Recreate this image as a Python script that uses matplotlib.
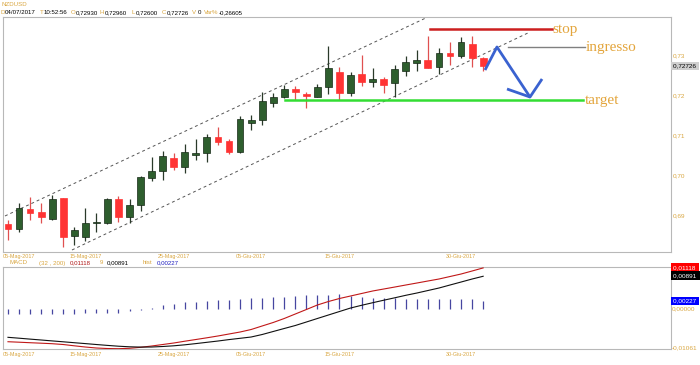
import matplotlib
matplotlib.use("Agg")
import matplotlib.pyplot as plt
import numpy as np

# ---------------- data ----------------
symbol = "NZDUSD"
opens = [0.68783, 0.68658, 0.69157, 0.69082, 0.68907, 0.69431, 0.68483, 0.68459, 0.68808, 0.68808,
         0.69406, 0.68957, 0.69257, 0.69930, 0.70105, 0.70429, 0.70204, 0.70504, 0.70553, 0.70945,
         0.70853, 0.70578, 0.71314, 0.71376, 0.71808, 0.71938, 0.72142, 0.72025, 0.71958, 0.72200,
         0.72581, 0.72042, 0.72524, 0.72332, 0.72399, 0.72292, 0.72606, 0.72791, 0.72873, 0.72706,
         0.73040, 0.72980, 0.73264, 0.72930]
highs = [0.68883, 0.69307, 0.69456, 0.69307, 0.69506, 0.69444, 0.68708, 0.69182, 0.69057, 0.69431,
         0.69481, 0.69406, 0.69980, 0.70466, 0.70603, 0.70553, 0.70778, 0.70903, 0.71027, 0.71214,
         0.70915, 0.71464, 0.71501, 0.72075, 0.72062, 0.72237, 0.72224, 0.72087, 0.72262, 0.73210,
         0.72698, 0.72581, 0.72998, 0.72666, 0.72456, 0.72748, 0.72973, 0.73122, 0.73471, 0.73165,
         0.73329, 0.73454, 0.73471, 0.72960]
lows = [0.68384, 0.68583, 0.68883, 0.68808, 0.68895, 0.68209, 0.68259, 0.68359, 0.68596, 0.68783,
        0.68833, 0.68808, 0.69107, 0.69855, 0.69880, 0.70129, 0.70055, 0.70379, 0.70341, 0.70753,
        0.70529, 0.70566, 0.71127, 0.71252, 0.71701, 0.71925, 0.71875, 0.71688, 0.71950, 0.72025,
        0.71875, 0.71963, 0.72224, 0.72192, 0.72057, 0.71958, 0.72474, 0.72599, 0.72666, 0.72524,
        0.72748, 0.72915, 0.72706, 0.72600]
closes = [0.68658, 0.69182, 0.69057, 0.68957, 0.69406, 0.68459, 0.68633, 0.68808, 0.68845, 0.69406,
          0.68957, 0.69257, 0.69955, 0.70105, 0.70479, 0.70204, 0.70591, 0.70553, 0.70965, 0.70828,
          0.70578, 0.71401, 0.71376, 0.71838, 0.71950, 0.72150, 0.72087, 0.71975, 0.72207, 0.72666,
          0.72062, 0.72499, 0.72312, 0.72392, 0.72249, 0.72641, 0.72830, 0.72873, 0.72681, 0.73040,
          0.72980, 0.73329, 0.72915, 0.72726]

macd = [-0.00890, -0.00903, -0.00917, -0.00930, -0.00944, -0.00966, -0.01001, -0.01034, -0.01061, -0.01075,
        -0.01080, -0.01069, -0.01042, -0.01007, -0.00966, -0.00925, -0.00876, -0.00830, -0.00783, -0.00734,
        -0.00680, -0.00626, -0.00558, -0.00462, -0.00367, -0.00258, -0.00136, -0.00014, 0.00109, 0.00204,
        0.00286, 0.00354, 0.00422, 0.00490, 0.00544, 0.00598, 0.00653, 0.00707, 0.00762, 0.00816,
        0.00884, 0.00952, 0.01034, 0.01118]
signal = [-0.00770, -0.00794, -0.00819, -0.00843, -0.00868, -0.00892, -0.00917, -0.00941, -0.00966, -0.00990,
          -0.01012, -0.01028, -0.01036, -0.01034, -0.01020, -0.01001, -0.00974, -0.00941, -0.00906, -0.00871,
          -0.00832, -0.00797, -0.00762, -0.00694, -0.00612, -0.00530, -0.00449, -0.00354, -0.00258, -0.00163,
          -0.00068, 0.00027, 0.00101, 0.00171, 0.00239, 0.00305, 0.00373, 0.00435, 0.00503, 0.00571,
          0.00653, 0.00734, 0.00816, 0.00891]
hist = [-0.0013, -0.0013, -0.0013, -0.0013, -0.0013, -0.0013, -0.0013, -0.0012, -0.0012, -0.0011,
        -0.0010, -0.0006, -0.0002, 0.0002, 0.0011, 0.0014, 0.0018, 0.0018, 0.0023, 0.0025,
        0.0025, 0.0027, 0.0029, 0.0029, 0.0032, 0.0034, 0.0036, 0.0038, 0.0038, 0.0038,
        0.0041, 0.0035, 0.0034, 0.0029, 0.0029, 0.0029, 0.0027, 0.0027, 0.0027, 0.0027,
        0.0027, 0.0027, 0.0027, 0.00227]

date_tick_idx = [1, 7, 15, 22, 30, 41]
date_tick_labels = ["05-Mag-2017", "15-Mag-2017", "25-Mag-2017", "05-Giu-2017", "15-Giu-2017", "30-Giu-2017"]
price_ticks = [0.69, 0.70, 0.71, 0.72, 0.73]
price_tick_labels = ["0,69", "0,70", "0,71", "0,72", "0,73"]

# annotation lines (index, price)
upper_channel_x = [-0.27, 38.0]
upper_channel_y = [0.68983, 0.73945]
lower_channel_x = [5.79, 47.24]
lower_channel_y = [0.68135, 0.73571]
stop_x = [38.2, 49.2]
stop_price = 0.73638
entry_x = [45.25, 52.2]
entry_price = 0.73190
target_x = [25.1, 52.0]
target_price = 0.71875
zigzag_x = [43.17, 44.25, 47.24, 48.33]
zigzag_y = [0.72623, 0.73197, 0.71950, 0.72399]
barb_x = [47.24, 45.16]
barb_y = [0.71950, 0.72150]

# ---------------- style ----------------
GOLD = "#d9a640"
GREEN_BODY = "#2e5e2e"
RED_BODY = "#ff3333"
SPINE = "#b8b8b8"
W, H = 700, 365
hf = ["Liberation Sans", "DejaVu Sans"]

fig = plt.figure(figsize=(7.0, 3.65), dpi=100)
fig.patch.set_facecolor("white")

def fx(px):
    return px / W

def fy(py):
    return 1 - py / H

ax = fig.add_axes([fx(3), fy(252), fx(671) - fx(3), fy(17) - fy(252)])
axm = fig.add_axes([fx(3), fy(349), fx(671) - fx(3), fy(267) - fy(349)])

n = len(opens)
idx = np.arange(n)
o = np.array(opens); c = np.array(closes); hi = np.array(highs); lo = np.array(lows)
up = c >= o

# candles
for i in range(n):
    col_w = "#2a3a2a" if up[i] else "#e05050"
    ax.vlines(idx[i], lo[i], hi[i], color=col_w, lw=0.9, zorder=2)
bottoms = np.minimum(o, c)
heights = np.maximum(np.abs(c - o), 0.00006)
ax.bar(idx[up], heights[up], bottom=bottoms[up], width=0.62, color=GREEN_BODY,
       edgecolor="#162816", linewidth=0.5, zorder=3)
ax.bar(idx[~up], heights[~up], bottom=bottoms[~up], width=0.62, color=RED_BODY,
       edgecolor="#ff3333", linewidth=0.5, zorder=3)

# channel
ax.plot(upper_channel_x, upper_channel_y, color="#555555", lw=0.7, ls=(0, (3, 3)), zorder=1)
ax.plot(lower_channel_x, lower_channel_y, color="#555555", lw=0.7, ls=(0, (3, 3)), zorder=1)

# levels
ax.plot(stop_x, [stop_price] * 2, color="#cc1f1f", lw=1.8, zorder=4)
ax.plot(entry_x, [entry_price] * 2, color="#808080", lw=1.0, zorder=4)
ax.plot(target_x, [target_price] * 2, color="#33dd33", lw=1.8, zorder=4)
ax.plot(zigzag_x, zigzag_y, color="#3a62d0", lw=2.0, zorder=5, solid_capstyle="butt")
ax.plot(barb_x, barb_y, color="#3a62d0", lw=2.0, zorder=5, solid_capstyle="butt")

serif = ["Liberation Serif", "DejaVu Serif"]
ax.text(stop_x[1] + 0.1, stop_price, "stop", family=serif, fontsize=11, color="#e3a53c",
        va="center", ha="left", zorder=6)
ax.text(entry_x[1] + 0.1, entry_price, "ingresso", family=serif, fontsize=11, color="#e3a53c",
        va="center", ha="left", zorder=6)
ax.text(target_x[1] + 0.2, target_price, "target", family=serif, fontsize=11, color="#e3a53c",
        va="center", ha="left", zorder=6)

ax.set_xlim(-0.45, 60)
ax.set_ylim(0.68085, 0.73945)
ax.yaxis.tick_right()
ax.set_yticks(price_ticks)
ax.set_yticklabels(price_tick_labels, family=hf)
ax.set_xticks(date_tick_idx)
ax.set_xticklabels(date_tick_labels, family=hf)
ax.tick_params(axis="y", length=0, labelsize=4.6, colors=GOLD, pad=1.5)
ax.tick_params(axis="x", length=0, labelsize=3.9, colors=GOLD, pad=1.5)
for s in ax.spines.values():
    s.set_color(SPINE); s.set_linewidth(0.8)

# MACD
axm.vlines(idx, 0, hist, color="#4646a0", lw=0.9, zorder=2)
axm.plot(idx, macd, color="#c01818", lw=0.8, zorder=3)
axm.plot(idx, signal, color="#111111", lw=0.8, zorder=3)
axm.set_xlim(-0.45, 60)
axm.set_ylim(-0.01088, 0.01143)
axm.set_xticks(date_tick_idx)
axm.set_xticklabels(date_tick_labels, family=hf)
axm.set_yticks([])
axm.tick_params(axis="both", length=0, labelsize=3.9, colors=GOLD, pad=2)
for s in axm.spines.values():
    s.set_color(SPINE); s.set_linewidth(0.8)

# ---------------- header texts ----------------
fs = 4.4
fig.text(fx(2), fy(5), symbol, color=GOLD, fontsize=fs, family=hf, va="center")
header = [(0.5, "D", GOLD), (5, "04/07/2017", "black"), (39.5, "T", GOLD), (44, "10:52:56", "black"),
          (70.5, "O", GOLD), (75.5, "0,72930", "black"), (99.5, "H", GOLD), (104.5, "0,72960", "black"),
          (131, "L", GOLD), (135.5, "0,72600", "black"), (161.5, "C", GOLD), (166.5, "0,72726", "black"),
          (192, "V", GOLD), (197.5, "0", "black"), (204, "Var%", GOLD), (218.5, "-0,26605", "black")]
for x0, t, col in header:
    fig.text(fx(x0), fy(12.7), t, color=col, fontsize=fs, family=hf, va="center")

macd_hdr = [(10, "MACD", GOLD), (39, "(32 , 200)", GOLD), (70, "0,01118", "#b01818"), (100, "9", GOLD),
            (107, "0,00891", "black"), (143, "hist", GOLD), (157, "0,00227", "#2020c0")]
for x0, t, col in macd_hdr:
    fig.text(fx(x0), fy(263), t, color=col, fontsize=fs, family=hf, va="center")

# right-side value boxes
def box(py, text, bg, fg):
    fig.text(fx(673), fy(py), text, color=fg, fontsize=4.6, family=hf, va="center", ha="left",
             bbox=dict(boxstyle="square,pad=0.25", fc=bg, ec="none"))

box(66, "0,72726 ", "#cfcfcf", "black")
box(267.5, "0,01118 ", "#ff0000", "white")
box(275.5, "0,00891 ", "#000000", "white")
box(301, "0,00227 ", "#0000ff", "white")
fig.text(fx(672), fy(309), "0,00000", color=GOLD, fontsize=4.6, family=hf, va="center")
fig.text(fx(672), fy(348), "-0,01061", color=GOLD, fontsize=4.6, family=hf, va="center")

fig.savefig("out.png", dpi=100, facecolor="white")
